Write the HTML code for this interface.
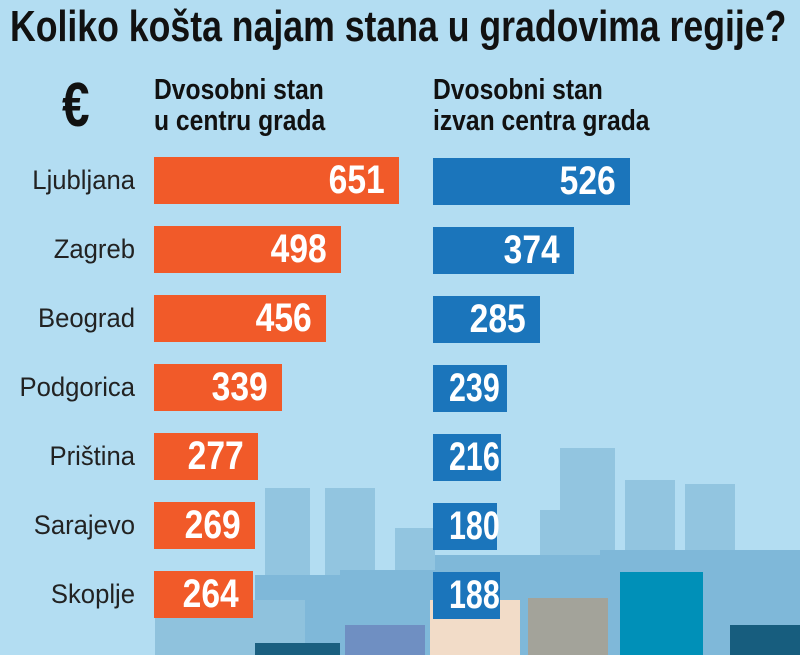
<!DOCTYPE html>
<html><head><meta charset="utf-8"><style>
body{margin:0;width:800px;height:655px;overflow:hidden;background:#b3ddf2;position:relative;font-family:"Liberation Sans",sans-serif}
.a{position:absolute}
.t{left:10px;top:2px;font-size:44px;font-weight:bold;color:#111;white-space:nowrap;transform:scaleX(0.81);transform-origin:left top}
.h{font-size:29px;font-weight:bold;color:#111;line-height:31px;white-space:nowrap;transform:scaleX(0.85);transform-origin:left top}
.c{width:135px;left:0;text-align:right;font-size:27px;color:#222;transform:scaleX(0.95);transform-origin:right top}
.b{height:47px;color:#fff;font-weight:bold;font-size:40px;line-height:47px;text-align:right;box-sizing:border-box;padding-right:14px;white-space:nowrap}
.b span{display:inline-block;transform:scaleX(0.84);transform-origin:right center}
.o{background:#f15a29;left:154px}
.u{background:#1b75bb;left:433px}
.sm span{transform:scaleX(0.76)}
.s1{background:#92c5e0}.s2{background:#7fb8d9}
</style></head><body>
<div class="a s1" style="left:265px;top:488px;width:45px;height:167px"></div>
<div class="a s1" style="left:325px;top:488px;width:50px;height:167px"></div>
<div class="a s1" style="left:395px;top:528px;width:40px;height:127px"></div>
<div class="a s1" style="left:560px;top:448px;width:55px;height:207px"></div>
<div class="a s1" style="left:625px;top:480px;width:50px;height:175px"></div>
<div class="a s1" style="left:685px;top:484px;width:50px;height:171px"></div>
<div class="a s1" style="left:540px;top:510px;width:40px;height:145px"></div>
<div class="a s2" style="left:255px;top:575px;width:100px;height:80px"></div>
<div class="a s2" style="left:340px;top:570px;width:100px;height:85px"></div>
<div class="a s2" style="left:435px;top:555px;width:180px;height:100px"></div>
<div class="a s2" style="left:600px;top:550px;width:200px;height:105px"></div>
<div class="a" style="left:155px;top:600px;width:150px;height:55px;background:#8fc2dd"></div>
<div class="a" style="left:620px;top:572px;width:83px;height:83px;background:#0090b8"></div>
<div class="a" style="left:528px;top:598px;width:80px;height:57px;background:#a3a39a"></div>
<div class="a" style="left:345px;top:625px;width:80px;height:30px;background:#6f8fc2"></div>
<div class="a" style="left:430px;top:600px;width:90px;height:55px;background:#f2dcc8"></div>
<div class="a" style="left:255px;top:643px;width:85px;height:12px;background:#1a5f80"></div>
<div class="a" style="left:730px;top:625px;width:70px;height:30px;background:#175d7e"></div>

<div class="a t">Koliko košta najam stana u gradovima regije?</div>
<div class="a" style="left:62px;top:70px;font-size:62px;font-weight:bold;color:#111;transform:scaleX(0.8);transform-origin:left top">€</div>
<div class="a h" style="left:154px;top:75px">Dvosobni stan<br>u centru grada</div>
<div class="a h" style="left:433px;top:75px">Dvosobni stan<br>izvan centra grada</div>

<div class="a c" style="top:165px">Ljubljana</div>
<div class="a c" style="top:234px">Zagreb</div>
<div class="a c" style="top:303px">Beograd</div>
<div class="a c" style="top:372px">Podgorica</div>
<div class="a c" style="top:441px">Priština</div>
<div class="a c" style="top:510px">Sarajevo</div>
<div class="a c" style="top:579px">Skoplje</div>

<div class="a b o" style="top:157px;width:245px"><span>651</span></div>
<div class="a b o" style="top:226px;width:187px"><span>498</span></div>
<div class="a b o" style="top:295px;width:172px"><span>456</span></div>
<div class="a b o" style="top:364px;width:128px"><span>339</span></div>
<div class="a b o" style="top:433px;width:104px"><span>277</span></div>
<div class="a b o" style="top:502px;width:101px"><span>269</span></div>
<div class="a b o" style="top:571px;width:99px"><span>264</span></div>

<div class="a b u" style="top:158px;width:197px"><span>526</span></div>
<div class="a b u" style="top:227px;width:141px"><span>374</span></div>
<div class="a b u" style="top:296px;width:107px"><span>285</span></div>
<div class="a b u sm" style="top:365px;width:74px;padding-right:7px"><span>239</span></div>
<div class="a b u sm" style="top:434px;width:68px;padding-right:6px"><span>216</span></div>
<div class="a b u sm" style="top:503px;width:64px;padding-right:5px"><span>180</span></div>
<div class="a b u sm" style="top:572px;width:67px;padding-right:6px"><span>188</span></div>
</body></html>
